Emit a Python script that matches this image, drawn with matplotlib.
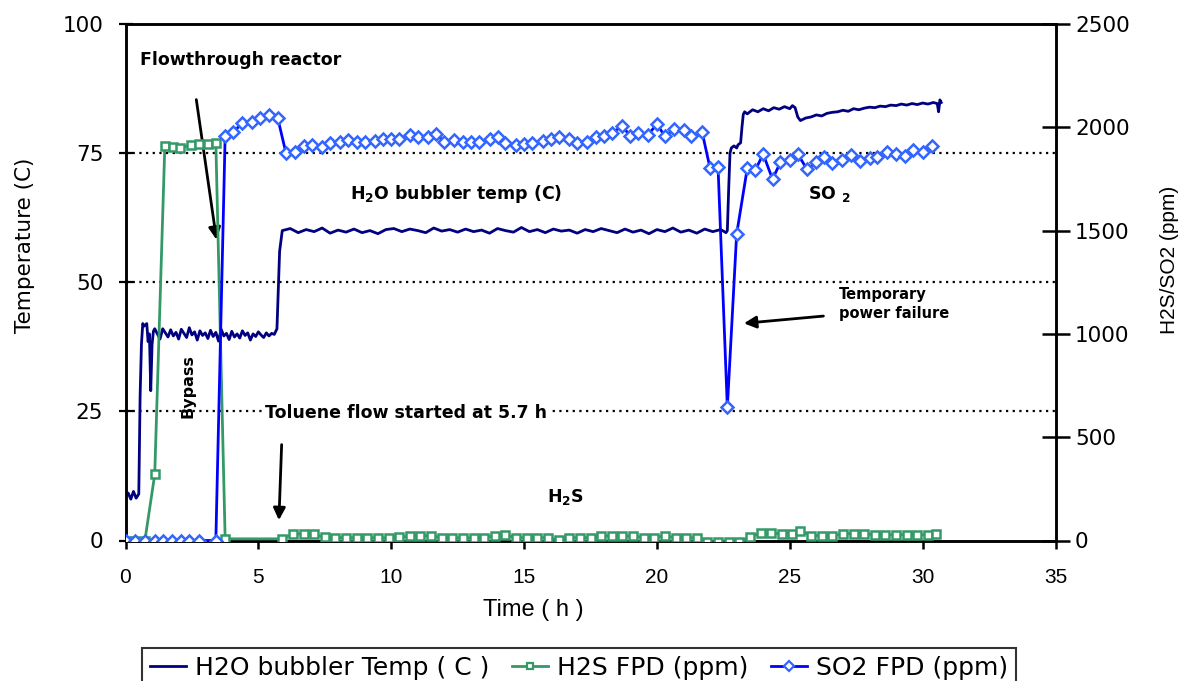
import matplotlib
matplotlib.use("Agg")
import matplotlib.pyplot as plt
from matplotlib import font_manager as fm
from matplotlib.lines import Line2D

# ---------------- data ----------------
h2o_t = [0.0, 0.1, 0.2, 0.3, 0.4, 0.5, 0.55, 0.6, 0.65, 0.7, 0.8, 0.85, 0.9, 0.95, 1.0, 1.05, 1.1,
         1.2, 1.3, 1.4, 1.5, 1.6, 1.7, 1.8, 1.9, 2.0, 2.1, 2.2, 2.3, 2.4, 2.5, 2.6, 2.7, 2.8, 2.9,
         3.0, 3.1, 3.2, 3.3, 3.4, 3.5, 3.6, 3.7, 3.8, 3.9, 4.0, 4.1, 4.2, 4.3, 4.4, 4.5, 4.6, 4.7,
         4.8, 4.9, 5.0, 5.1, 5.2, 5.3, 5.4, 5.5, 5.6, 5.7, 5.8, 5.9,
         6.2, 6.5, 6.8, 7.1, 7.4, 7.7, 8.0, 8.3, 8.6, 8.9, 9.2, 9.5, 9.8, 10.1, 10.4, 10.7, 11.0,
         11.3, 11.6, 11.9, 12.2, 12.5, 12.8, 13.1, 13.4, 13.7, 14.0, 14.3, 14.6, 14.9, 15.2, 15.5,
         15.8, 16.1, 16.4, 16.7, 17.0, 17.3, 17.6, 17.9, 18.2, 18.5, 18.8, 19.1, 19.4, 19.7, 20.0,
         20.3, 20.6, 20.9, 21.2, 21.5, 21.8, 22.1, 22.4, 22.6, 22.65, 22.7, 22.75, 22.8, 22.9, 23.0,
         23.05, 23.1, 23.15, 23.2, 23.25, 23.3, 23.4, 23.6, 23.8, 24.0, 24.2, 24.4, 24.6, 24.8, 25.0,
         25.1, 25.2,
         25.3, 25.4, 25.6, 25.8, 26.0, 26.2, 26.4, 26.6, 26.8, 27.0, 27.2, 27.4, 27.6, 27.8, 28.0,
         28.2, 28.4, 28.6, 28.8, 29.0, 29.2, 29.4, 29.6, 29.8, 30.0, 30.2, 30.4, 30.55, 30.6, 30.65, 30.7]
h2o_v = [8.5, 9.2, 8.0, 9.5, 8.2, 9.0, 28.0, 38.0, 42.0, 41.5, 42.0, 38.5, 40.0, 29.0, 38.0, 40.5, 41.0,
         40.0, 39.0, 41.0, 40.2, 39.4, 40.8, 39.6, 40.3, 39.0, 40.9, 40.1, 39.3, 41.2, 39.8, 40.4, 38.8,
         40.6, 39.7, 40.2, 39.1, 40.7, 39.5, 40.3, 38.6, 40.9, 39.6, 40.1, 38.9, 40.5, 39.4, 40.0, 39.2,
         40.6, 39.7, 40.2, 38.8, 40.0, 39.5, 40.4, 39.8, 39.3, 40.2, 39.6, 40.1, 39.9, 41.0, 56.0, 60.0,
         60.4, 59.6, 60.2, 59.8, 60.5, 59.5, 60.1, 59.7, 60.3, 59.6, 60.0, 59.4, 60.2, 60.4, 59.8, 60.3,
         60.0, 59.6, 60.5, 59.9, 60.2, 59.7, 60.3, 59.8, 60.1, 59.5, 60.4, 60.0, 59.7, 60.6, 59.8, 60.2,
         59.6, 60.3, 59.9, 60.1, 59.5, 60.2, 59.8, 60.4, 60.0, 59.6, 60.3, 59.7, 60.1, 59.4, 60.2, 59.8,
         60.5, 59.7, 60.1, 59.5, 60.3, 59.8, 60.2, 59.6, 60.0, 68.0, 75.0, 76.0, 76.4, 76.0, 76.6, 76.8,
         77.0, 80.0, 82.5, 83.0, 82.6, 83.4, 83.0, 83.6, 83.2, 83.8, 83.5, 84.0, 83.6, 84.2, 83.8,
         82.0, 81.3, 81.8, 82.0, 82.4, 82.2, 82.7, 82.9, 83.0, 83.3, 83.1, 83.6, 83.4, 83.7, 83.9,
         83.8, 84.1, 84.0, 84.3, 84.2, 84.5, 84.3, 84.6, 84.4, 84.7, 84.5, 84.8, 84.6, 83.0, 85.3, 84.8]

so2_t = [0.0, 0.36, 0.73, 1.1, 1.4, 1.75, 2.1, 2.4, 2.77, 3.4, 3.75, 4.05, 4.4, 4.75, 5.06, 5.4, 5.73,
         6.04, 6.37, 6.7, 7.0, 7.4, 7.7, 8.06, 8.37, 8.7, 9.0, 9.4, 9.7, 10.0, 10.3, 10.7, 11.0, 11.4,
         11.7, 12.0, 12.35, 12.7, 13.0, 13.3, 13.7, 14.0, 14.3, 14.7, 15.0, 15.3, 15.7, 16.0, 16.3,
         16.7, 17.0, 17.35, 17.7, 18.0, 18.3, 18.7, 19.0, 19.3, 19.65, 20.0, 20.3, 20.65, 21.0, 21.3,
         21.7, 22.0, 22.3, 22.65, 23.0, 23.4, 23.7, 24.0, 24.35, 24.65, 25.0, 25.3, 25.65, 26.0, 26.3,
         26.6, 26.97, 27.3, 27.65, 28.0, 28.3, 28.65, 29.0, 29.35, 29.65, 30.0, 30.35]
so2_v = [0, 0, 0, 0, 0, 0, 0, 0, 0, 0, 1957, 1977, 2020, 2025, 2044, 2059, 2044,
         1875, 1880, 1909, 1914, 1904, 1923, 1928, 1938, 1930, 1928, 1933, 1943, 1945, 1945, 1962,
         1952, 1952, 1967, 1928, 1938, 1928, 1928, 1930, 1943, 1952, 1923, 1914, 1918, 1923, 1933,
         1943, 1952, 1943, 1923, 1928, 1952, 1957, 1972, 2006, 1957, 1972, 1962, 2015, 1957, 1991,
         1986, 1957, 1977, 1802, 1807, 644, 1483, 1802, 1793, 1870, 1749, 1831, 1841, 1870, 1797,
         1831, 1856, 1827, 1841, 1865, 1836, 1851, 1856, 1880, 1870, 1860, 1890, 1880, 1909]

h2s_t = [0.0, 0.36, 0.73, 1.1, 1.48, 1.8, 2.05, 2.45, 2.75, 3.1, 3.4, 3.75, 5.9,
         6.3, 6.7, 7.1, 7.5, 7.9, 8.3, 8.7, 9.1, 9.5, 9.9, 10.3, 10.7, 11.1, 11.5, 11.9, 12.3, 12.7,
         13.1, 13.5, 13.9, 14.3, 14.7, 15.1, 15.5, 15.9, 16.3, 16.7, 17.1, 17.5, 17.9, 18.3, 18.7,
         19.1, 19.5, 19.9, 20.3, 20.7, 21.1, 21.5, 21.9, 22.3, 22.7, 23.1, 23.5, 23.9, 24.3, 24.7,
         25.1, 25.4, 25.8, 26.2, 26.6, 27.0, 27.4, 27.8, 28.2, 28.6, 29.0, 29.4, 29.8, 30.2, 30.5]
h2s_v = [0, 0, 0, 320, 1910, 1905, 1900, 1915, 1920, 1920, 1925, 8, 8,
         32, 32, 30, 15, 14, 14, 13, 14, 12, 12, 15, 22, 24, 22, 14, 13, 13,
         12, 13, 24, 25, 14, 13, 13, 14, 3, 14, 13, 14, 22, 22, 21,
         22, 14, 13, 24, 12, 14, 12, -8, -8, -8, -8, 18, 35, 35, 33,
         33, 48, 24, 24, 22, 33, 33, 33, 28, 28, 28, 28, 28, 28, 30]

x_ticks = [0, 5, 10, 15, 20, 25, 30, 35]
temp_ticks = [0, 25, 50, 75, 100]
ppm_ticks = [0, 500, 1000, 1500, 2000, 2500]
grid_levels = [25, 50, 75]

# ---------------- fonts ----------------
names = {f.name for f in fm.fontManager.ttflist}
LIB = "Liberation Sans" if "Liberation Sans" in names else "DejaVu Sans"
WIDE = "DejaVu Sans"
plt.rcParams["font.family"] = [WIDE]
plt.rcParams["mathtext.fontset"] = "custom"
plt.rcParams["mathtext.rm"] = WIDE
plt.rcParams["mathtext.bf"] = WIDE + ":bold"

NAVY = "#000080"
GREEN = "#339966"
BLUE = "#0000FF"
LBLUE = "#3366FF"

W, H = 1180, 681
fig = plt.figure(figsize=(W / 100, H / 100), dpi=100)
x0, x1, ytop, ybot = 125.5, 1055.5, 24.0, 540.5
ax = fig.add_axes([x0 / W, (H - ybot) / H, (x1 - x0) / W, (ybot - ytop) / H])
ax2 = ax.twinx()

ax.plot(h2o_t, h2o_v, color=NAVY, lw=2.0, zorder=3)
ax2.plot(h2s_t, h2s_v, color=GREEN, lw=2.0, marker="s", ms=6, mfc="white",
         mec=GREEN, mew=1.8, zorder=3)
ax2.plot(so2_t, so2_v, color=BLUE, lw=2.0, marker="D", ms=6, mfc="white",
         mec=LBLUE, mew=1.8, zorder=4)

for g in grid_levels:
    ax.axhline(g, color="black", lw=1.6, ls=(0, (1, 2)), zorder=1)

ax.set_xlim(0, 35)
ax.set_ylim(0, 100)
ax2.set_ylim(0, 2500)
ax.set_xticks(x_ticks)
ax.set_yticks(temp_ticks)
ax2.set_yticks(ppm_ticks)

for a in (ax, ax2):
    for s in a.spines.values():
        s.set_linewidth(1.8)
        s.set_color("black")

ax.tick_params(axis="x", direction="out", length=6, width=1.8, labelsize=15, pad=14)
ax.tick_params(axis="y", direction="inout", length=10, width=1.6, labelsize=15.5, pad=11)
ax2.tick_params(axis="y", direction="inout", length=20, width=1.8, labelsize=15.5, pad=4)
for lab in ax.get_xticklabels():
    lab.set_family(LIB)

ax.set_xlabel("Time ( h )", fontsize=17, family=LIB)
ax.xaxis.set_label_coords(0.438, -0.113)
ax.set_ylabel("Temperature (C)", fontsize=15.5)
ax.yaxis.set_label_coords(-0.097, 0.572)
ax2.set_ylabel("H2S/SO2 (ppm)", fontsize=15, family=LIB)
ax2.yaxis.set_label_coords(1.112, 0.543)

ax2.set_zorder(ax.get_zorder() + 1)
ax2.patch.set_visible(False)

# ---------------- annotations ----------------
tk = dict(fontweight="bold", color="black", fontsize=12.5)
ax.text(0.55, 93.1, "Flowthrough reactor", ha="left", va="center", **tk)
ax.annotate("", xy=(3.44, 57.7), xytext=(2.65, 85.9),
            arrowprops=dict(arrowstyle="-|>", color="black", lw=2, mutation_scale=18))
ax.text(8.44, 67.0, r"H$_\mathbf{2}$O bubbler temp (C)", ha="left", va="center", **tk)
ax.text(25.7, 67.0, r"SO $_\mathbf{2}$", ha="left", va="center", **tk)
ax.text(2.35, 29.9, "Bypass", ha="center", va="center", rotation=90,
        fontweight="bold", fontsize=11.5)
ax.text(5.24, 24.7, "Toluene flow started at 5.7 h", ha="left", va="center", zorder=5,
        bbox=dict(facecolor="white", edgecolor="none", pad=1.5), **tk)
ax.annotate("", xy=(5.77, 3.4), xytext=(5.88, 19.1),
            arrowprops=dict(arrowstyle="-|>", color="black", lw=2, mutation_scale=18))
ax.text(26.86, 45.8, "Temporary\npower failure", ha="left", va="center",
        fontweight="bold", fontsize=10.5, linespacing=1.3)
ax.annotate("", xy=(23.17, 42.0), xytext=(26.37, 43.5),
            arrowprops=dict(arrowstyle="-|>", color="black", lw=2, mutation_scale=18))
ax.text(15.88, 8.4, r"H$_\mathbf{2}$S", ha="left", va="center", **tk)

# ---------------- legend ----------------
handles = [
    Line2D([], [], color=NAVY, lw=2),
    Line2D([], [], color=GREEN, lw=2, marker="s", ms=5, mfc="white", mec=GREEN, mew=1.6),
    Line2D([], [], color=BLUE, lw=2, marker="D", ms=5, mfc="white", mec=LBLUE, mew=1.6),
]
labels = ["H2O bubbler Temp ( C )", "H2S FPD (ppm)", "SO2 FPD (ppm)"]
leg = fig.legend(handles, labels, loc="upper left", ncol=3,
                 bbox_to_anchor=(142 / W, 1 - 648 / H),
                 bbox_transform=fig.transFigure,
                 frameon=True, fancybox=False, borderaxespad=0, borderpad=0.3,
                 handlelength=1.45, handletextpad=0.36, columnspacing=0.9,
                 prop=dict(family=WIDE, size=18))
leg.get_frame().set_edgecolor("black")
leg.get_frame().set_linewidth(1.5)

fig.savefig("out.png", dpi=100)
